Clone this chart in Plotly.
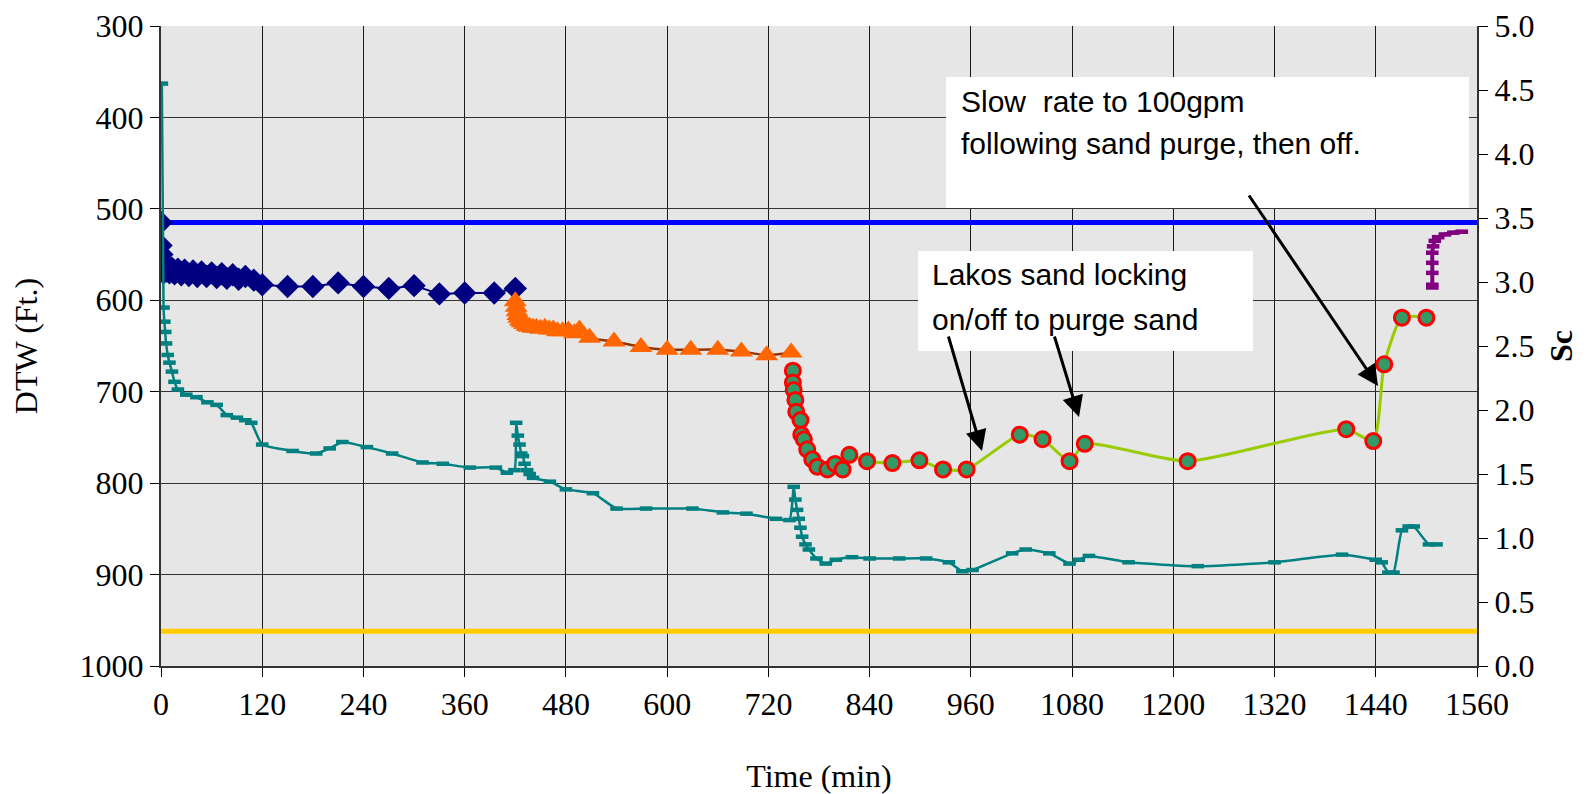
import plotly.graph_objects as go

# ---------------- data ----------------
time_axis_max = 1560

# Navy diamonds - DTW (ft)
dtw_a_time = [0, 0, 1, 1, 2, 3, 4, 6, 8, 10, 13, 16, 20, 24, 28, 33, 38, 43, 48, 54,
              60, 66, 72, 78, 85, 92, 100, 110, 120, 150, 180, 210, 240, 270, 300, 330,
              360, 395, 420]
dtw_a_vals = [515, 540, 550, 558, 565, 570, 562, 568, 563, 570, 565, 571, 566, 572, 567,
              573, 568, 574, 569, 574, 570, 575, 571, 576, 572, 577, 574, 578, 583, 585,
              585, 581, 585, 587, 584, 593, 592, 592, 587]

# Orange triangles - DTW (ft)
dtw_b_time = [420, 421, 422, 423, 424, 426, 428, 431, 434, 437, 441, 445, 450, 455, 460,
              465, 470, 476, 483, 490, 496, 508, 537, 569, 600, 628, 660, 688, 718, 747]
dtw_b_vals = [601, 607, 612, 616, 619, 622, 624, 626, 628, 629, 630, 630, 631, 630, 632,
              632, 634, 634, 633, 636, 632, 641, 645, 651, 654, 654, 654, 656, 660, 657]

# Green circles with red rim - DTW (ft)
dtw_c_time = [749, 749, 750, 752, 753, 758, 759, 762, 766, 772, 778, 790, 799, 808, 816,
              837, 867, 899, 927, 955, 1018, 1045, 1077, 1095, 1217, 1405, 1437, 1450,
              1471, 1500]
dtw_c_vals = [677, 690, 698, 709, 722, 731, 747, 752, 763, 774, 782, 785, 779, 785, 769,
              776, 778, 775, 785, 785, 747, 752, 776, 757, 776, 741, 754, 670, 619, 619]

# Purple recovery - DTW (ft)
dtw_d_time = [1507, 1507, 1507, 1507, 1507, 1508, 1510, 1514, 1522, 1532, 1542]
dtw_d_vals = [586, 583, 570, 559, 548, 541, 535, 531, 528, 526, 525]

# Reference levels - DTW (ft)
ref_time = [0, 1560]
blue_level = [515, 515]
yellow_level = [962, 962]

# Teal - specific capacity Sc (right axis)
sc_time = [1, 3, 4, 5, 6, 8, 10, 13, 16, 20, 30, 42, 55, 66, 78, 90, 100, 107, 120, 156,
           184, 200, 215, 244, 274, 310, 334, 366, 397, 410, 419, 421, 423, 425, 427, 429,
           431, 434, 437, 441, 461, 480, 512, 540, 575, 630, 666, 694, 729, 745, 750, 752,
           754, 756, 758, 760, 764, 768, 777, 788, 800, 819, 840, 875, 907, 934, 950, 962,
           1009, 1025, 1053, 1077, 1088, 1100, 1147, 1229, 1320, 1400, 1440, 1447, 1455,
           1461, 1471, 1479, 1485, 1503, 1512]
sc_vals = [4.55, 2.80, 2.69, 2.61, 2.52, 2.43, 2.37, 2.30, 2.22, 2.16, 2.12, 2.10, 2.06,
           2.04, 1.96, 1.94, 1.92, 1.90, 1.73, 1.68, 1.66, 1.70, 1.75, 1.71, 1.66, 1.59,
           1.58, 1.55, 1.55, 1.51, 1.53, 1.90, 1.80, 1.73, 1.66, 1.64, 1.58, 1.53, 1.50,
           1.47, 1.44, 1.38, 1.35, 1.23, 1.23, 1.23, 1.20, 1.19, 1.15, 1.14, 1.40, 1.30,
           1.22, 1.15, 1.08, 1.01, 0.95, 0.91, 0.84, 0.80, 0.83, 0.85, 0.84, 0.84, 0.84,
           0.81, 0.74, 0.75, 0.88, 0.91, 0.88, 0.80, 0.83, 0.86, 0.81, 0.78, 0.81, 0.87,
           0.83, 0.81, 0.73, 0.73, 1.06, 1.09, 1.09, 0.95, 0.95]

note_slow = ["Slow  rate to 100gpm", "following sand purge, then off."]
note_lakos = ["Lakos sand locking", "on/off to purge sand"]

# ---------------- figure ----------------
W, H = 1592, 794
ML, MR, MT, MB = 161, 115, 26, 128
PW, PH = W - ML - MR, H - MT - MB


def px(x):
    return (x - ML) / PW


def py(y):
    return (H - MB - y) / PH


serif = "Liberation Serif, Times New Roman, serif"
sans = "Liberation Sans, Arial, sans-serif"

fig = go.Figure()

fig.add_trace(go.Scatter(x=ref_time, y=yellow_level, mode="lines",
                         line=dict(color="#FFCC00", width=5), yaxis="y"))
fig.add_trace(go.Scatter(x=ref_time, y=blue_level, mode="lines",
                         line=dict(color="#0000FF", width=5), yaxis="y"))

fig.add_trace(go.Scatter(x=sc_time, y=sc_vals, mode="lines+markers", yaxis="y2",
                         line=dict(color="#008080", width=2.5, shape="spline", smoothing=0.5),
                         marker=dict(symbol="line-ew", size=9,
                                     line=dict(color="#008080", width=4.5))))

fig.add_trace(go.Scatter(x=dtw_a_time, y=dtw_a_vals, mode="lines+markers", yaxis="y",
                         line=dict(color="#000080", width=2),
                         marker=dict(symbol="diamond", size=18, color="#000080")))

fig.add_trace(go.Scatter(x=dtw_b_time, y=dtw_b_vals, mode="lines+markers", yaxis="y",
                         line=dict(color="#993300", width=2.5, shape="spline", smoothing=0.6),
                         marker=dict(symbol="triangle-up", size=20, color="#FF6600")))

fig.add_trace(go.Scatter(x=dtw_c_time, y=dtw_c_vals, mode="lines+markers", yaxis="y",
                         line=dict(color="#99CC00", width=3, shape="spline", smoothing=0.6),
                         marker=dict(symbol="circle", size=15, color="#339966",
                                     line=dict(color="#FF0000", width=3))))

fig.add_trace(go.Scatter(x=dtw_d_time, y=dtw_d_vals, mode="lines+markers", yaxis="y",
                         line=dict(color="#800080", width=4, shape="spline", smoothing=0.6),
                         marker=dict(symbol="line-ew", size=9,
                                     line=dict(color="#800080", width=4.5))))

# white note boxes
shapes = [
    dict(type="rect", xref="paper", yref="paper", x0=px(946), x1=px(1469), y0=py(208), y1=py(77),
         fillcolor="white", line=dict(width=0), layer="above"),
    dict(type="rect", xref="paper", yref="paper", x0=px(918), x1=px(1253), y0=py(351), y1=py(251),
         fillcolor="white", line=dict(width=0), layer="above"),
]

annotations = []
for txt, yy in zip(note_slow, [101, 144]):
    annotations.append(dict(text=txt, xref="paper", yref="paper", x=px(959), y=py(yy),
                            xanchor="left", yanchor="middle", showarrow=False,
                            font=dict(family=sans, size=30, color="black")))
for txt, yy in zip(note_lakos, [274, 319]):
    annotations.append(dict(text=txt, xref="paper", yref="paper", x=px(930), y=py(yy),
                            xanchor="left", yanchor="middle", showarrow=False,
                            font=dict(family=sans, size=30, color="black")))

arrows = [((982, 451), (948, 335)), ((1079, 417), (1054, 335)), ((1378, 386), (1248, 194))]
for (hx, hy), (tx, ty) in arrows:
    annotations.append(dict(text="", xref="paper", yref="paper", x=px(hx), y=py(hy),
                            ax=tx - hx, ay=ty - hy, axref="pixel", ayref="pixel",
                            showarrow=True, arrowhead=2, arrowsize=1.4, arrowwidth=3,
                            arrowcolor="black", standoff=0, startstandoff=0))

tickfont = dict(family=serif, size=32, color="black")

fig.update_layout(
    width=W, height=H,
    margin=dict(l=ML, r=MR, t=MT, b=MB, autoexpand=False),
    paper_bgcolor="white",
    plot_bgcolor="#e6e6e6",
    showlegend=False,
    hovermode=False,
    shapes=shapes,
    annotations=annotations,
    xaxis=dict(range=[0, time_axis_max], dtick=120, tick0=0, ticks="outside", ticklen=9,
               tickcolor="black", showline=True, linecolor="#333333", linewidth=2,
               showgrid=True, gridcolor="#1a1a1a", gridwidth=1, zeroline=False,
               tickfont=tickfont, automargin=False,
               title=dict(text="Time (min)", font=tickfont, standoff=44)),
    yaxis=dict(range=[1000, 300], dtick=100, tick0=300, ticks="outside", ticklen=9,
               tickcolor="black", showline=True, linecolor="#333333", linewidth=2,
               showgrid=True, gridcolor="#333333", gridwidth=1, zeroline=False,
               tickfont=tickfont, automargin=False,
               title=dict(text="DTW (Ft.)", font=tickfont, standoff=32)),
    yaxis2=dict(range=[0, 5], dtick=0.5, tick0=0, tickformat=".1f", overlaying="y",
                side="right", anchor="x", ticks="outside", ticklen=9, tickcolor="black",
                showline=True, linecolor="#333333", linewidth=2, showgrid=False,
                zeroline=False, tickfont=tickfont, automargin=False,
                title=dict(text="<b>Sc</b>", font=tickfont, standoff=16)),
)

fig.write_html("out.html", config={"displayModeBar": False, "staticPlot": True},
               post_script="document.body.style.margin='0px';document.body.style.overflow='hidden';")
